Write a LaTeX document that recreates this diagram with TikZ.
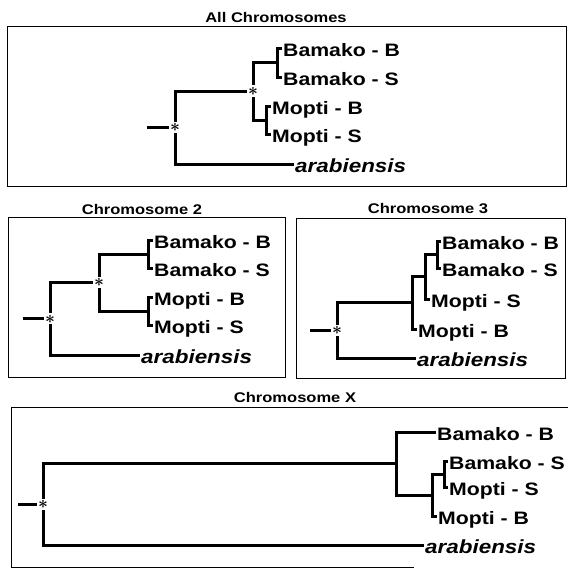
\documentclass[tikz,border=0pt]{standalone}
\usepackage{fontspec}
\setmainfont{Liberation Sans}[FakeStretch=1.18]
\begin{document}
\begin{tikzpicture}[x=1pt,y=-1pt,
  frame/.style={line width=1pt},
  br/.style={line width=3pt},
  stub/.style={line width=3.2pt},
  lab/.style={anchor=west, inner xsep=1pt, inner ysep=0pt, text height=17pt, text depth=0pt,
    font=\fontsize{18}{20}\selectfont\bfseries},
  ara/.style={lab, font=\fontsize{19}{21}\selectfont\bfseries\itshape},
  ttl/.style={inner sep=0pt, font=\fontsize{14}{16}\selectfont\bfseries},
  astn/.style={fill=white, inner xsep=1.2pt, inner ysep=0.6pt, text height=9.25pt, text depth=0.75pt,
    font=\fontsize{17}{19}\selectfont\boldmath}]
\useasboundingbox (0,0) rectangle (568,568);

% ---------- titles ----------
\node[ttl] (t1) at (276,17) {All Chromosomes};
\node[ttl] (t2) at (142,209) {Chromosome 2};
\node[ttl] (t3) at (428,209) {Chromosome 3};
\node[ttl] (tx) at (295,397) {Chromosome X};

% ---------- frames ----------
\draw[frame] (7,26.5) rectangle (566,186.5);
\draw[frame] (8.5,217) rectangle (285,377);
\draw[frame] (296,218) rectangle (565,378);
\draw[frame] (568,407) -- (11,407) -- (11,567) -- (414,567);

% ---------- panel 1: all chromosomes ----------
\coordinate (s1) at (147,127.5);
\coordinate (r1) at (175,127.5);
\coordinate (c1) at (253,91);
\coordinate (b1) at (277,62.5);
\coordinate (m1) at (266,120);
\node[lab] (p1bb) at (282,48) {Bamako - B};
\node[lab] (p1bs) at (282,77) {Bamako - S};
\node[lab] (p1mb) at (271,106) {Mopti - B};
\node[lab] (p1ms) at (271,134) {Mopti - S};
\node[ara] (p1ar) at (294,164) {arabiensis};
\draw[stub] (s1) -- (r1);
\draw[br] (p1bb) -| (b1) |- (p1bs);
\draw[br] (p1mb) -| (m1) |- (p1ms);
\draw[br] (b1) -| (c1) |- (m1);
\draw[br] (c1) -| (r1) |- (p1ar);
\node[astn] (a1r) at (r1) {$\ast$};
\node[astn] (a1c) at (c1) {$\ast$};

% ---------- panel 2: chromosome 2 ----------
\coordinate (s2) at (23,318.75);
\coordinate (r2) at (50,318.75);
\coordinate (c2) at (99,282.5);
\coordinate (b2) at (148,254);
\coordinate (m2) at (148,311);
\node[lab] (p2bb) at (153,240) {Bamako - B};
\node[lab] (p2bs) at (153,268) {Bamako - S};
\node[lab] (p2mb) at (153,297) {Mopti - B};
\node[lab] (p2ms) at (153,325) {Mopti - S};
\node[ara] (p2ar) at (140,355) {arabiensis};
\draw[stub] (s2) -- (r2);
\draw[br] (p2bb) -| (b2) |- (p2bs);
\draw[br] (p2mb) -| (m2) |- (p2ms);
\draw[br] (b2) -| (c2) |- (m2);
\draw[br] (c2) -| (r2) |- (p2ar);
\node[astn] (a2r) at (r2) {$\ast$};
\node[astn] (a2c) at (c2) {$\ast$};

% ---------- panel 3: chromosome 3 ----------
\coordinate (s3) at (310,330.4);
\coordinate (r3) at (337,330.4);
\coordinate (n3c) at (412,302.9);
\coordinate (n3b) at (425,276.75);
\coordinate (n3a) at (437,254.5);
\node[lab] (p3bb) at (441,241) {Bamako - B};
\node[lab] (p3bs) at (441,268) {Bamako - S};
\node[lab] (p3ms) at (430,299) {Mopti - S};
\node[lab] (p3mb) at (417,329) {Mopti - B};
\node[ara] (p3ar) at (416,358) {arabiensis};
\draw[stub] (s3) -- (r3);
\draw[br] (p3bb) -| (n3a) |- (p3bs);
\draw[br] (n3a) -| (n3b) |- (p3ms);
\draw[br] (n3b) -| (n3c) |- (p3mb);
\draw[br] (n3c) -| (r3) |- (p3ar);
\node[astn] (a3r) at (r3) {$\ast$};

% ---------- panel X: chromosome X ----------
\coordinate (sx) at (18,504.25);
\coordinate (rx) at (43,504.25);
\coordinate (nxc) at (396,463.5);
\coordinate (nxb) at (432,495);
\coordinate (nxa) at (444,474);
\node[lab] (pxbb) at (436,432) {Bamako - B};
\node[lab] (pxbs) at (448,461) {Bamako - S};
\node[lab] (pxms) at (448,487) {Mopti - S};
\node[lab] (pxmb) at (437,516) {Mopti - B};
\node[ara] (pxar) at (424,545) {arabiensis};
\draw[stub] (sx) -- (rx);
\draw[br] (pxbs) -| (nxa) |- (pxms);
\draw[br] (nxa) -| (nxb) |- (pxmb);
\draw[br] (pxbb) -| (nxc) |- (nxb);
\draw[br] (nxc) -| (rx) |- (pxar);
\node[astn] (axr) at (rx) {$\ast$};
\end{tikzpicture}
\end{document}
